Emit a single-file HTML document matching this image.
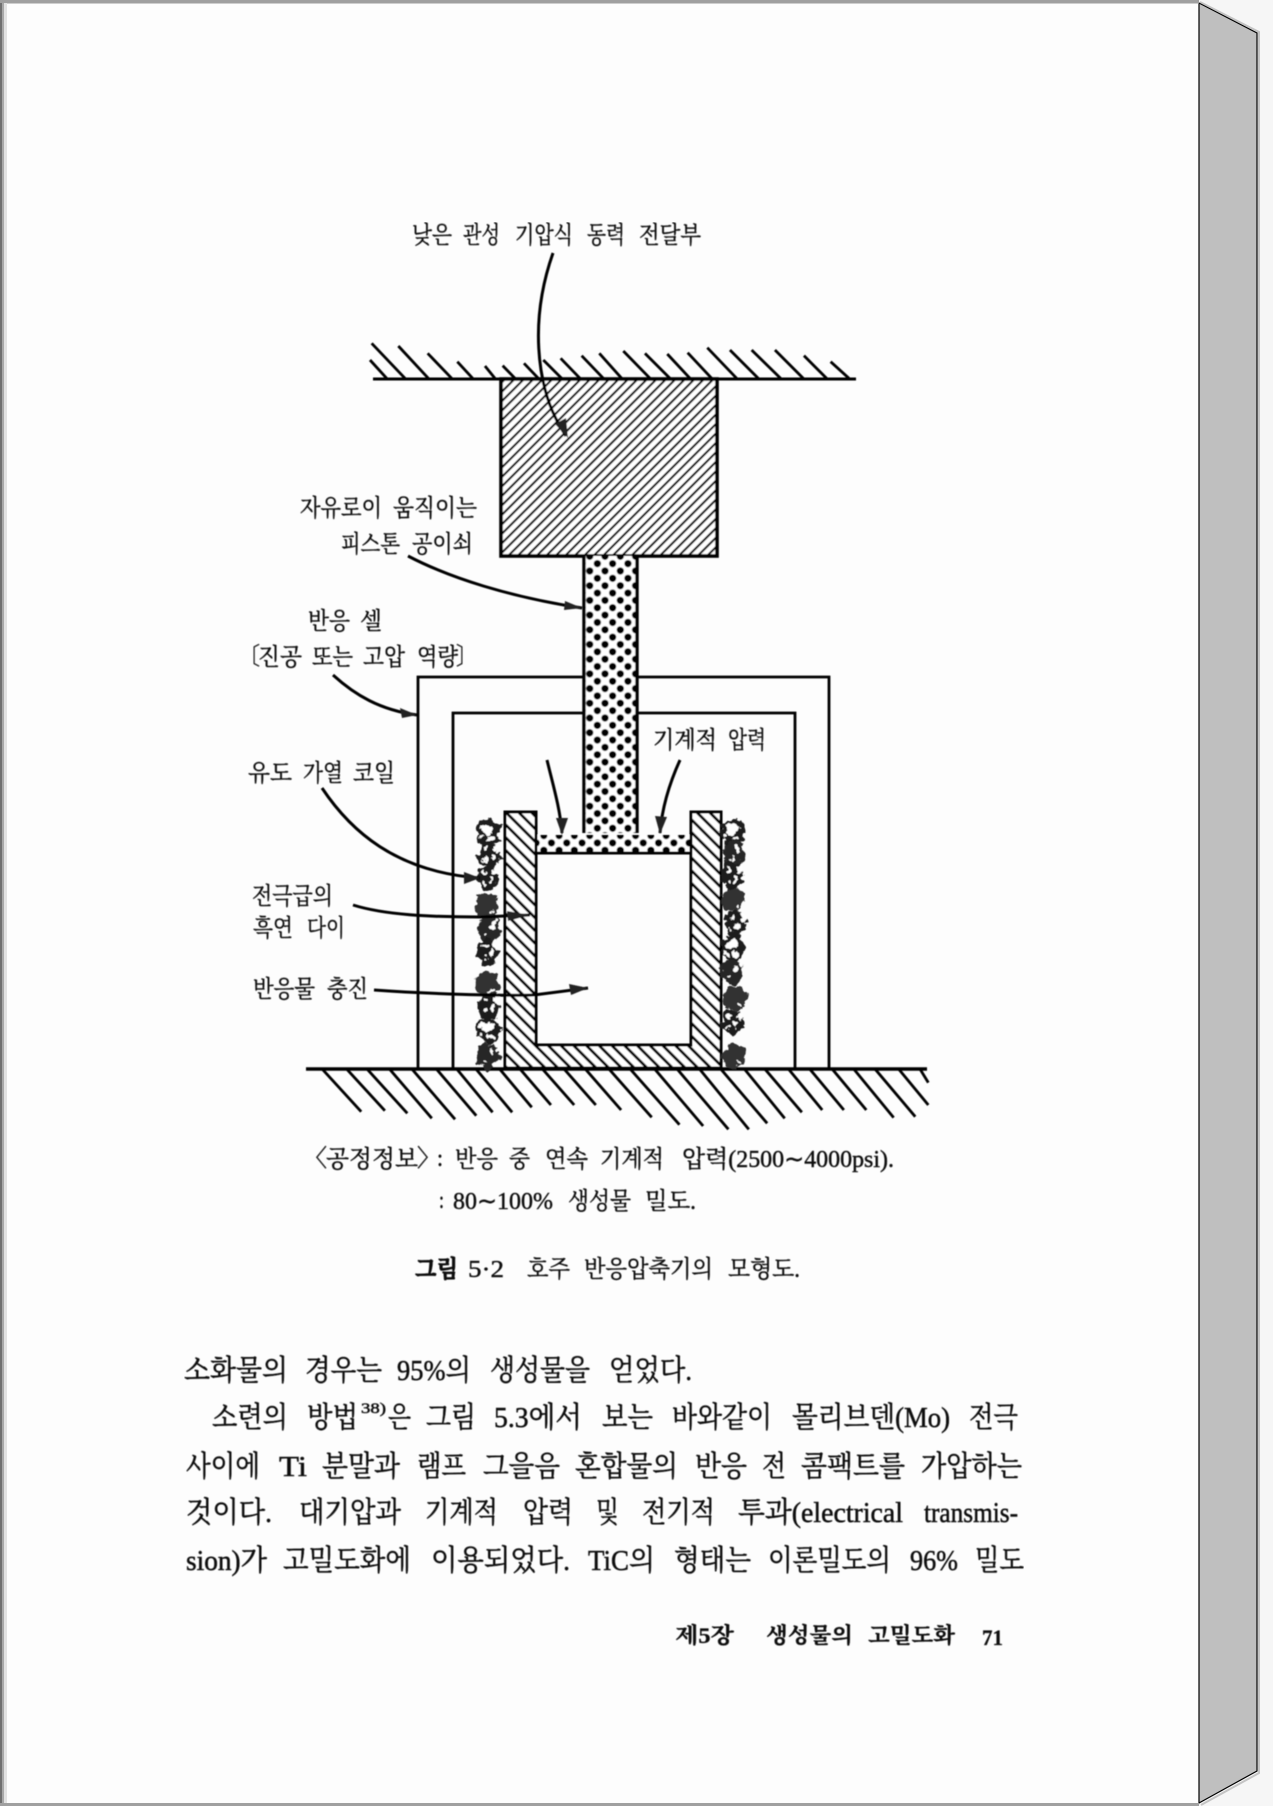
<!DOCTYPE html>
<html lang="ko"><head><meta charset="utf-8"><title>그림 5.2</title>
<style>
html,body{margin:0;padding:0;background:#f6f6f6;width:1273px;height:1806px;overflow:hidden}
svg{display:block;position:absolute;left:0;top:0}
text{font-family:"Liberation Serif","Noto Serif CJK KR","Noto Serif CJK SC",serif;fill:#111}
.b{font-size:29px;stroke:#111;stroke-width:.5px}
.l{font-size:24px;stroke:#111;stroke-width:.42px}
.c{font-size:24px;stroke:#111;stroke-width:.42px}
.f{font-size:22px;font-weight:700;stroke:#111;stroke-width:.3px}
.k{font-weight:700;stroke-width:.7px}
</style></head><body>
<svg width="1273" height="1806" viewBox="0 0 1273 1806" xmlns="http://www.w3.org/2000/svg">
<defs>
<pattern id="h1" patternUnits="userSpaceOnUse" width="6.7" height="6.7" patternTransform="rotate(45 500 379)"><rect width="6.7" height="6.7" fill="#fff"/><rect x="0" y="0" width="2.1" height="6.7" fill="#000"/></pattern>
<pattern id="h2" patternUnits="userSpaceOnUse" width="9" height="9" patternTransform="rotate(-45 505 812)"><rect width="9" height="9" fill="#fff"/><rect x="0" y="0" width="2.8" height="9" fill="#000"/></pattern>
<pattern id="d" patternUnits="userSpaceOnUse" x="585.9" y="567.3" width="15.3" height="14.7"><rect width="15.3" height="14.7" fill="#fff"/><circle cx="3.8" cy="3.7" r="3.6" fill="#000"/><circle cx="11.45" cy="11.05" r="3.6" fill="#000"/></pattern>
<filter id="rough" x="-30%" y="-5%" width="160%" height="110%"><feTurbulence type="fractalNoise" baseFrequency=".13" numOctaves="3" seed="7"/><feDisplacementMap in="SourceGraphic" scale="11" xChannelSelector="R" yChannelSelector="G"/></filter>
<filter id="soft" x="0" y="0" width="100%" height="100%"><feGaussianBlur stdDeviation=".4"/></filter>
<g id="w1"><ellipse cx="0" cy="0" rx="11" ry="13" fill="#1c1c1c"/><ellipse cx="-3" cy="-6" rx="2.4" ry="1.6" fill="#fff"/><ellipse cx="3" cy="2" rx="2.2" ry="3.2" fill="#fff"/><ellipse cx="-4" cy="6" rx="1.6" ry="1.5" fill="#fff"/><ellipse cx="8" cy="-7" rx="3" ry="3" fill="#fff"/></g>
<g id="w2"><ellipse cx="0" cy="0" rx="11" ry="13" fill="#262626"/><ellipse cx="4" cy="-4" rx="2.6" ry="3.5" fill="#fff"/><ellipse cx="-3" cy="5" rx="1.5" ry="1.5" fill="#fff"/></g>
<g id="w3"><ellipse cx="0" cy="0" rx="12" ry="13" fill="#1c1c1c"/><ellipse cx="-1" cy="-3" rx="6" ry="5" fill="#fff"/><ellipse cx="3" cy="6" rx="3" ry="2.4" fill="#fff"/><ellipse cx="-7" cy="5" rx="1.8" ry="1.8" fill="#fff"/></g>
<g id="w4"><ellipse cx="0" cy="0" rx="12" ry="12" fill="#333"/><ellipse cx="5" cy="6" rx="1.6" ry="1.6" fill="#fff"/></g>
</defs>
<rect width="1273" height="1806" fill="#f6f6f6"/>
<rect x="0" y="0" width="1199" height="1806" fill="#fdfdfd"/>
<polygon points="1199,3 1257,33 1257,1771 1199,1803" fill="#bfbfbf" stroke="#000" stroke-width="1.2"/>
<path d="M1200,2 L1259,32 V1773 L1201,1805" fill="none" stroke="#9a9a9a" stroke-width="2" opacity=".55"/>
<rect x="0" y="0" width="1199" height="3.5" fill="#a0a0a0"/>
<rect x="0" y="1803" width="1199" height="3" fill="#a0a0a0"/>
<rect x="0" y="3" width="2" height="1800" fill="#707070"/><rect x="2" y="3" width="2" height="1800" fill="#a8a8a8"/><rect x="4" y="3" width="3" height="1800" fill="#e2e2e2"/>

<g filter="url(#soft)">
<!-- frames (behind the stem) -->
<path d="M418,1068 V677 H829 V1068 M453,1068 V713 H795 V1068" stroke="#000" stroke-width="2.8" fill="none"/>
<!-- ceiling -->
<path d="M373,379 H856" stroke="#000" stroke-width="3" fill="none"/>
<g transform="translate(360,340) scale(.3333)" stroke="#000" fill="none" stroke-width="2.8">
<path vector-effect="non-scaling-stroke" d="M35,10L135,115M30,60L80,115M115,18L205,115M203,40L275,115M292,65L338,115M375,78L405,115M428,77L465,115M492,70L535,115M550,60L605,115M602,55L660,115M665,47L730,115M718,40L785,115M790,33L870,115M855,40L930,115M922,42L990,115M983,38L1055,115M1042,23L1130,115M1110,30L1195,115M1175,30L1262,115M1245,30L1330,115M1332,47L1400,115M1412,65L1467,115"/>
</g>
<!-- block and stem -->
<rect x="501" y="379" width="216" height="177" fill="url(#h1)" stroke="#000" stroke-width="3.6"/>
<rect x="584" y="556" width="53" height="277" fill="url(#d)"/>
<path d="M584,556 V833 M637,556 V833" stroke="#000" stroke-width="3.4" fill="none"/>
<!-- plunger -->
<rect x="536" y="835" width="155" height="18" fill="url(#d)"/>
<!-- crucible -->
<path d="M505,812 H536 V1045 H691 V812 H721 V1068 H505 Z" fill="url(#h2)" stroke="#000" stroke-width="3"/>
<path d="M536,853 H691" stroke="#000" stroke-width="3"/>
<!-- floor -->
<path d="M306,1069 H927" stroke="#000" stroke-width="3.4" fill="none"/>
<g transform="translate(300,1050) scale(.408,.3333)" stroke="#000" fill="none" stroke-width="2.8">
<path vector-effect="non-scaling-stroke" d="M55,58L150,185M115,58L208,182M165,58L263,190M220,58L323,205M275,58L380,208M335,58L432,197M385,58L472,187M432,58L520,187M490,58L568,172M540,58L615,165M595,58L672,165M648,58L725,165M700,58L787,180M758,58L862,202M810,58L930,224M870,58L988,228M925,58L1050,238M980,58L1100,238M1032,58L1145,220M1090,58L1188,205M1140,58L1230,187M1198,58L1280,180M1250,58L1333,180M1305,58L1388,180M1358,58L1455,203M1410,58L1508,200M1468,58L1540,165M1520,58L1540,98"/>
</g>
<!-- coils -->
<g filter="url(#rough)">
<use href="#w3" x="488" y="832"/><use href="#w1" x="489" y="855"/><use href="#w1" x="488" y="878"/><use href="#w4" x="487" y="906"/><use href="#w2" x="489" y="930"/><use href="#w1" x="488" y="952"/><use href="#w4" x="487" y="984"/><use href="#w1" x="489" y="1006"/><use href="#w3" x="488" y="1030"/><use href="#w2" x="488" y="1056"/>
<use href="#w3" x="733" y="832"/><use href="#w2" x="734" y="854"/><use href="#w1" x="732" y="876"/><use href="#w4" x="733" y="900"/><use href="#w1" x="735" y="924"/><use href="#w3" x="733" y="948"/><use href="#w2" x="732" y="972"/><use href="#w4" x="735" y="998"/><use href="#w1" x="733" y="1022"/><use href="#w4" x="734" y="1056"/>
</g>
<!-- arrows -->
<g fill="none" stroke="#000" stroke-width="3">
<path d="M553,253 C540,290 535,330 541,370 C545,395 552,415 566,436"/>
<path d="M408,556 C450,578 510,597 582,608"/>
<path d="M333,675 C355,695 380,710 417,715"/>
<path d="M322,788 C350,830 395,872 480,878"/>
<path d="M353,905 C385,915 430,917 480,917 L530,915"/>
<path d="M374,990 C430,994 500,996 534,995 L588,988"/>
<path d="M547,760 C553,785 560,808 562,833"/>
<path d="M680,760 C670,782 662,808 660,833"/>
</g>
<g fill="#222">
<polygon points="568,438 555,424 566,418"/>
<polygon points="582,608 565,601 564,610"/>
<polygon points="417,715 400,708 402,718"/>
<polygon points="480,878 464,872 464,884"/>
<polygon points="530,915 507,911 508,921"/>
<polygon points="588,988 569,984 571,995"/>
<polygon points="562,835 556,818 568,818"/>
<polygon points="660,834 655,816 667,817"/>
</g>

<!-- labels -->
<text class="l" x="412" y="243" textLength="40" lengthAdjust="spacingAndGlyphs">낮은</text>
<text class="l" x="463" y="243" textLength="37" lengthAdjust="spacingAndGlyphs">관성</text>
<text class="l" x="515" y="243" textLength="58" lengthAdjust="spacingAndGlyphs">기압식</text>
<text class="l" x="587" y="243" textLength="38" lengthAdjust="spacingAndGlyphs">동력</text>
<text class="l" x="639" y="243" textLength="62" lengthAdjust="spacingAndGlyphs">전달부</text>
<text class="l" x="300" y="516" textLength="82" lengthAdjust="spacingAndGlyphs">자유로이</text>
<text class="l" x="393" y="516" textLength="84" lengthAdjust="spacingAndGlyphs">움직이는</text>
<text class="l" x="341" y="552" textLength="59" lengthAdjust="spacingAndGlyphs">피스톤</text>
<text class="l" x="412" y="552" textLength="61" lengthAdjust="spacingAndGlyphs">공이쇠</text>
<text class="l" x="308" y="629" textLength="42" lengthAdjust="spacingAndGlyphs">반응</text>
<text class="l" x="360" y="629" textLength="22" lengthAdjust="spacingAndGlyphs">셀</text>
<text class="l" x="238" y="664" textLength="22" lengthAdjust="spacingAndGlyphs">〔</text>
<text class="l" x="258" y="665" textLength="44" lengthAdjust="spacingAndGlyphs">진공</text>
<text class="l" x="312" y="665" textLength="41" lengthAdjust="spacingAndGlyphs">또는</text>
<text class="l" x="363" y="665" textLength="42" lengthAdjust="spacingAndGlyphs">고압</text>
<text class="l" x="417" y="665" textLength="41" lengthAdjust="spacingAndGlyphs">역량</text>
<text class="l" x="456" y="664" textLength="22" lengthAdjust="spacingAndGlyphs">〕</text>
<text class="l" x="248" y="781" textLength="44" lengthAdjust="spacingAndGlyphs">유도</text>
<text class="l" x="303" y="781" textLength="40" lengthAdjust="spacingAndGlyphs">가열</text>
<text class="l" x="353" y="781" textLength="42" lengthAdjust="spacingAndGlyphs">코일</text>
<text class="l" x="252" y="904" textLength="81" lengthAdjust="spacingAndGlyphs">전극급의</text>
<text class="l" x="253" y="936" textLength="40" lengthAdjust="spacingAndGlyphs">흑연</text>
<text class="l" x="307" y="936" textLength="38" lengthAdjust="spacingAndGlyphs">다이</text>
<text class="l" x="253" y="997" textLength="62" lengthAdjust="spacingAndGlyphs">반응물</text>
<text class="l" x="327" y="997" textLength="41" lengthAdjust="spacingAndGlyphs">충진</text>
<text class="l" x="653" y="748" textLength="64" lengthAdjust="spacingAndGlyphs">기계적</text>
<text class="l" x="728" y="748" textLength="38" lengthAdjust="spacingAndGlyphs">압력</text>

<!-- caption -->
<text class="c" x="304" y="1166" textLength="23" lengthAdjust="spacingAndGlyphs">〈</text>
<text class="c" x="326" y="1167" textLength="92" lengthAdjust="spacingAndGlyphs">공정정보</text>
<text class="c" x="417" y="1166" textLength="23" lengthAdjust="spacingAndGlyphs">〉</text>
<text class="c" x="437" y="1166" textLength="6" lengthAdjust="spacingAndGlyphs">:</text>
<text class="c" x="455" y="1167" textLength="43" lengthAdjust="spacingAndGlyphs">반응</text>
<text class="c" x="509" y="1167" textLength="21" lengthAdjust="spacingAndGlyphs">중</text>
<text class="c" x="545" y="1167" textLength="43" lengthAdjust="spacingAndGlyphs">연속</text>
<text class="c" x="600" y="1167" textLength="64" lengthAdjust="spacingAndGlyphs">기계적</text>
<text class="c" x="682" y="1167" textLength="212" lengthAdjust="spacingAndGlyphs">압력(2500∼4000psi).</text>
<text class="c" x="439" y="1208" textLength="5" lengthAdjust="spacingAndGlyphs">:</text>
<text class="c" x="453" y="1209" textLength="100" lengthAdjust="spacingAndGlyphs">80∼100%</text>
<text class="c" x="568" y="1209" textLength="63" lengthAdjust="spacingAndGlyphs">생성물</text>
<text class="c" x="645" y="1209" textLength="51" lengthAdjust="spacingAndGlyphs">밀도.</text>
<text class="c k" x="415" y="1277" textLength="43" lengthAdjust="spacingAndGlyphs">그림</text>
<text class="c" x="468" y="1277" textLength="36" lengthAdjust="spacingAndGlyphs">5·2</text>
<text class="c" x="527" y="1277" textLength="43" lengthAdjust="spacingAndGlyphs">호주</text>
<text class="c" x="584" y="1277" textLength="129" lengthAdjust="spacingAndGlyphs">반응압축기의</text>
<text class="c" x="728" y="1277" textLength="72" lengthAdjust="spacingAndGlyphs">모형도.</text>

<!-- body -->
<text class="b" x="184" y="1380" textLength="104" lengthAdjust="spacingAndGlyphs">소화물의</text>
<text class="b" x="305" y="1380" textLength="77" lengthAdjust="spacingAndGlyphs">경우는</text>
<text class="b" x="397" y="1380" textLength="74" lengthAdjust="spacingAndGlyphs">95%의</text>
<text class="b" x="490" y="1380" textLength="100" lengthAdjust="spacingAndGlyphs">생성물을</text>
<text class="b" x="609" y="1380" textLength="83" lengthAdjust="spacingAndGlyphs">얻었다.</text>

<text class="b" x="212" y="1427" textLength="76" lengthAdjust="spacingAndGlyphs">소련의</text>
<text class="b" x="307" y="1427" textLength="51" lengthAdjust="spacingAndGlyphs">방법</text>
<text x="361" y="1413" font-size="15" stroke="#111" stroke-width=".5" textLength="25" lengthAdjust="spacingAndGlyphs">38)</text>
<text class="b" x="388" y="1427" textLength="23" lengthAdjust="spacingAndGlyphs">은</text>
<text class="b" x="426" y="1427" textLength="50" lengthAdjust="spacingAndGlyphs">그림</text>
<text class="b" x="494" y="1427" textLength="88" lengthAdjust="spacingAndGlyphs">5.3에서</text>
<text class="b" x="602" y="1427" textLength="51" lengthAdjust="spacingAndGlyphs">보는</text>
<text class="b" x="672" y="1427" textLength="100" lengthAdjust="spacingAndGlyphs">바와같이</text>
<text class="b" x="792" y="1427" textLength="158" lengthAdjust="spacingAndGlyphs">몰리브덴(Mo)</text>
<text class="b" x="969" y="1427" textLength="49" lengthAdjust="spacingAndGlyphs">전극</text>

<text class="b" x="186" y="1476" textLength="74" lengthAdjust="spacingAndGlyphs">사이에</text>
<text class="b" x="279" y="1476" textLength="28" lengthAdjust="spacingAndGlyphs">Ti</text>
<text class="b" x="322" y="1476" textLength="78" lengthAdjust="spacingAndGlyphs">분말과</text>
<text class="b" x="417" y="1476" textLength="49" lengthAdjust="spacingAndGlyphs">램프</text>
<text class="b" x="483" y="1476" textLength="77" lengthAdjust="spacingAndGlyphs">그을음</text>
<text class="b" x="575" y="1476" textLength="103" lengthAdjust="spacingAndGlyphs">혼합물의</text>
<text class="b" x="695" y="1476" textLength="52" lengthAdjust="spacingAndGlyphs">반응</text>
<text class="b" x="762" y="1476" textLength="24" lengthAdjust="spacingAndGlyphs">전</text>
<text class="b" x="801" y="1476" textLength="104" lengthAdjust="spacingAndGlyphs">콤팩트를</text>
<text class="b" x="921" y="1476" textLength="101" lengthAdjust="spacingAndGlyphs">가압하는</text>

<text class="b" x="186" y="1522" textLength="86" lengthAdjust="spacingAndGlyphs">것이다.</text>
<text class="b" x="299" y="1522" textLength="102" lengthAdjust="spacingAndGlyphs">대기압과</text>
<text class="b" x="425" y="1522" textLength="73" lengthAdjust="spacingAndGlyphs">기계적</text>
<text class="b" x="523" y="1522" textLength="50" lengthAdjust="spacingAndGlyphs">압력</text>
<text class="b" x="596" y="1522" textLength="23" lengthAdjust="spacingAndGlyphs">및</text>
<text class="b" x="642" y="1522" textLength="73" lengthAdjust="spacingAndGlyphs">전기적</text>
<text class="b" x="738" y="1522" textLength="165" lengthAdjust="spacingAndGlyphs">투과(electrical</text>
<text class="b" x="924" y="1522" textLength="94" lengthAdjust="spacingAndGlyphs">transmis-</text>

<text class="b" x="186" y="1570" textLength="81" lengthAdjust="spacingAndGlyphs">sion)가</text>
<text class="b" x="283" y="1570" textLength="128" lengthAdjust="spacingAndGlyphs">고밀도화에</text>
<text class="b" x="431" y="1570" textLength="139" lengthAdjust="spacingAndGlyphs">이용되었다.</text>
<text class="b" x="588" y="1570" textLength="67" lengthAdjust="spacingAndGlyphs">TiC의</text>
<text class="b" x="674" y="1570" textLength="77" lengthAdjust="spacingAndGlyphs">형태는</text>
<text class="b" x="768" y="1570" textLength="123" lengthAdjust="spacingAndGlyphs">이론밀도의</text>
<text class="b" x="910" y="1570" textLength="48" lengthAdjust="spacingAndGlyphs">96%</text>
<text class="b" x="975" y="1570" textLength="49" lengthAdjust="spacingAndGlyphs">밀도</text>

<!-- footer -->
<text class="f" x="675" y="1643" textLength="59" lengthAdjust="spacingAndGlyphs">제5장</text>
<text class="f" x="766" y="1643" textLength="87" lengthAdjust="spacingAndGlyphs">생성물의</text>
<text class="f" x="868" y="1643" textLength="87" lengthAdjust="spacingAndGlyphs">고밀도화</text>
<text class="f" x="982" y="1645" textLength="21" lengthAdjust="spacingAndGlyphs">71</text>
</g>
</svg>
</body></html>
